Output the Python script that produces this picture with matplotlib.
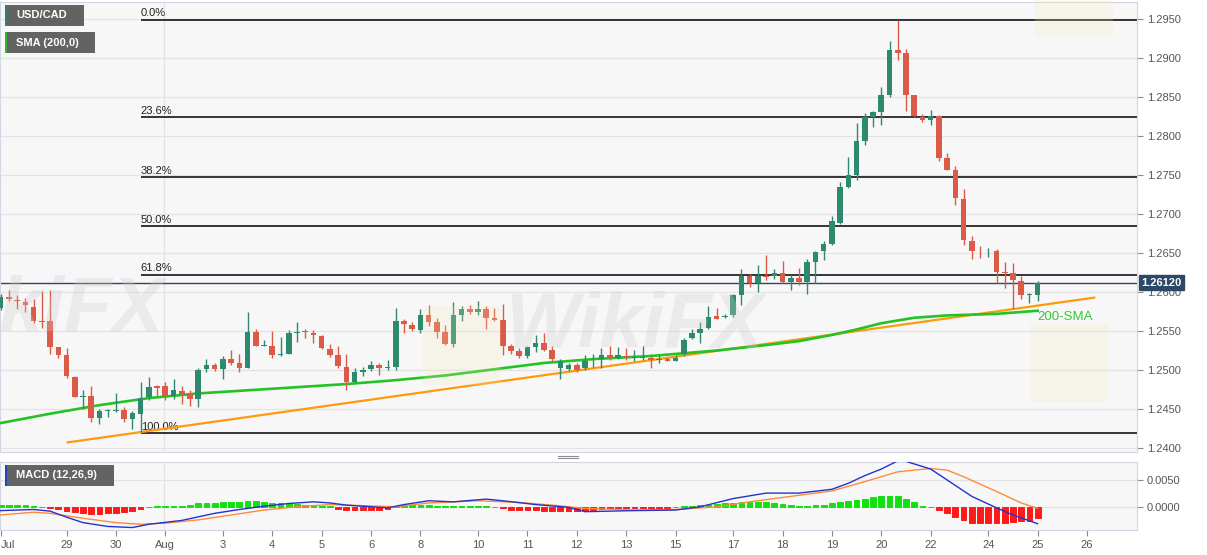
import numpy as np
import matplotlib
matplotlib.use("Agg")
import matplotlib.pyplot as plt
from matplotlib.patches import Rectangle, FancyBboxPatch
from matplotlib.lines import Line2D
from matplotlib.transforms import blended_transform_factory

plt.rcParams['font.family'] = ['Liberation Sans', 'DejaVu Sans']

# 4H candles, USD/CAD, Jul 28 -> Aug 25
opens = [1.2580, 1.2593, 1.2590, 1.2587, 1.2581, 1.2563, 1.2563, 1.2529, 1.2519, 1.2491,
         1.2466, 1.2467, 1.2439, 1.2447, 1.2448, 1.2449, 1.2437, 1.2444, 1.2465, 1.2479,
         1.2479, 1.2467, 1.2473, 1.2470, 1.2463, 1.2501, 1.2507, 1.2501, 1.2514, 1.2509,
         1.2503, 1.2549, 1.2531, 1.2531, 1.2519, 1.2521, 1.2548, 1.2550, 1.2547, 1.2544,
         1.2527, 1.2519, 1.2504, 1.2485, 1.2498, 1.2501, 1.2506, 1.2503, 1.2504, 1.2563,
         1.2558, 1.2551, 1.2571, 1.2561, 1.2549, 1.2533, 1.2571, 1.2578, 1.2575, 1.2578,
         1.2567, 1.2564, 1.2531, 1.2525, 1.2518, 1.2529, 1.2534, 1.2526, 1.2502, 1.2501,
         1.2506, 1.2502, 1.2511, 1.2514, 1.2519, 1.2516, 1.2518, 1.2516, 1.2515, 1.2516,
         1.2513, 1.2514, 1.2512, 1.2520, 1.2541, 1.2548, 1.2554, 1.2569, 1.2568, 1.2570,
         1.2596, 1.2620, 1.2611, 1.2621, 1.2620, 1.2625, 1.2613, 1.2618, 1.2613, 1.2638,
         1.2652, 1.2662, 1.2689, 1.2735, 1.2750, 1.2793, 1.2825, 1.2831, 1.2852, 1.2910,
         1.2906, 1.2853, 1.2825, 1.2821, 1.2826, 1.2772, 1.2756, 1.2719, 1.2666, 1.2653,
         1.2652, 1.2653, 1.2626, 1.2625, 1.2614, 1.2596, 1.2596]
highs = [1.2597, 1.2603, 1.2596, 1.2592, 1.2591, 1.2601, 1.2602, 1.2530, 1.2528, 1.2492,
         1.2474, 1.2479, 1.2450, 1.2450, 1.2471, 1.2453, 1.2448, 1.2485, 1.2491, 1.2481,
         1.2484, 1.2489, 1.2479, 1.2475, 1.2502, 1.2514, 1.2509, 1.2518, 1.2526, 1.2520,
         1.2574, 1.2553, 1.2539, 1.2550, 1.2542, 1.2551, 1.2562, 1.2553, 1.2551, 1.2545,
         1.2533, 1.2531, 1.2521, 1.2502, 1.2504, 1.2511, 1.2509, 1.2513, 1.2580, 1.2566,
         1.2561, 1.2578, 1.2583, 1.2567, 1.2558, 1.2587, 1.2582, 1.2583, 1.2588, 1.2582,
         1.2579, 1.2585, 1.2533, 1.2528, 1.2531, 1.2545, 1.2548, 1.2531, 1.2514, 1.2509,
         1.2509, 1.2519, 1.2521, 1.2528, 1.2531, 1.2529, 1.2528, 1.2526, 1.2531, 1.2521,
         1.2519, 1.2517, 1.2519, 1.2541, 1.2552, 1.2562, 1.2582, 1.2579, 1.2572, 1.2598,
         1.2629, 1.2623, 1.2634, 1.2647, 1.2629, 1.2640, 1.2622, 1.2631, 1.2642, 1.2653,
         1.2666, 1.2697, 1.2741, 1.2773, 1.2817, 1.2830, 1.2832, 1.2863, 1.2922, 1.2949,
         1.2912, 1.2853, 1.2828, 1.2833, 1.2827, 1.2778, 1.2761, 1.2732, 1.2672, 1.2659,
         1.2656, 1.2655, 1.2638, 1.2637, 1.2620, 1.2599, 1.2614]
lows = [1.2577, 1.2589, 1.2578, 1.2575, 1.2560, 1.2554, 1.2521, 1.2515, 1.2490, 1.2465,
        1.2450, 1.2433, 1.2431, 1.2440, 1.2446, 1.2434, 1.2425, 1.2420, 1.2461, 1.2467,
        1.2462, 1.2463, 1.2457, 1.2454, 1.2452, 1.2497, 1.2499, 1.2488, 1.2507, 1.2498,
        1.2502, 1.2531, 1.2531, 1.2515, 1.2518, 1.2520, 1.2536, 1.2541, 1.2535, 1.2527,
        1.2517, 1.2503, 1.2474, 1.2483, 1.2492, 1.2499, 1.2494, 1.2500, 1.2500, 1.2548,
        1.2550, 1.2548, 1.2557, 1.2541, 1.2532, 1.2530, 1.2563, 1.2572, 1.2570, 1.2553,
        1.2563, 1.2519, 1.2521, 1.2516, 1.2516, 1.2523, 1.2525, 1.2512, 1.2489, 1.2499,
        1.2498, 1.2500, 1.2504, 1.2502, 1.2513, 1.2514, 1.2513, 1.2512, 1.2513, 1.2502,
        1.2509, 1.2511, 1.2512, 1.2518, 1.2540, 1.2534, 1.2552, 1.2565, 1.2567, 1.2568,
        1.2583, 1.2607, 1.2600, 1.2616, 1.2617, 1.2611, 1.2602, 1.2609, 1.2598, 1.2611,
        1.2641, 1.2660, 1.2687, 1.2733, 1.2744, 1.2788, 1.2812, 1.2814, 1.2850, 1.2897,
        1.2832, 1.2825, 1.2818, 1.2814, 1.2768, 1.2756, 1.2712, 1.2660, 1.2642, 1.2644,
        1.2645, 1.2612, 1.2605, 1.2578, 1.2591, 1.2586, 1.2588]
closes = [1.2593, 1.2591, 1.2588, 1.2583, 1.2563, 1.2562, 1.2530, 1.2519, 1.2492, 1.2466,
          1.2467, 1.2439, 1.2447, 1.2448, 1.2449, 1.2437, 1.2445, 1.2464, 1.2478, 1.2477,
          1.2467, 1.2474, 1.2469, 1.2463, 1.2500, 1.2507, 1.2501, 1.2514, 1.2509, 1.2503,
          1.2549, 1.2531, 1.2532, 1.2519, 1.2520, 1.2548, 1.2549, 1.2549, 1.2545, 1.2528,
          1.2519, 1.2505, 1.2485, 1.2498, 1.2500, 1.2506, 1.2503, 1.2504, 1.2563, 1.2559,
          1.2552, 1.2571, 1.2561, 1.2549, 1.2533, 1.2571, 1.2578, 1.2575, 1.2578, 1.2567,
          1.2564, 1.2531, 1.2525, 1.2518, 1.2529, 1.2534, 1.2526, 1.2514, 1.2512, 1.2506,
          1.2500, 1.2511, 1.2512, 1.2519, 1.2516, 1.2519, 1.2517, 1.2517, 1.2516, 1.2513,
          1.2514, 1.2512, 1.2516, 1.2539, 1.2547, 1.2553, 1.2568, 1.2566, 1.2569, 1.2596,
          1.2620, 1.2611, 1.2621, 1.2619, 1.2625, 1.2613, 1.2618, 1.2613, 1.2638, 1.2651,
          1.2662, 1.2691, 1.2734, 1.2750, 1.2793, 1.2824, 1.2831, 1.2852, 1.2910, 1.2907,
          1.2853, 1.2826, 1.2821, 1.2826, 1.2772, 1.2757, 1.2720, 1.2667, 1.2653, 1.2652,
          1.2653, 1.2626, 1.2625, 1.2615, 1.2596, 1.2597, 1.2612]

# 200-SMA, read at selected candles
sma_idx = [0, 6, 12, 18, 24, 30, 36, 42, 48, 54, 60, 66, 72, 79, 87, 93, 97, 101, 104, 107, 111, 115, 121, 126]
sma_val = [1.2432, 1.2444, 1.2455, 1.2464, 1.2470, 1.2474, 1.2478, 1.2482, 1.2487, 1.2493,
           1.2501, 1.2509, 1.2514, 1.2518, 1.2525, 1.2532, 1.2537, 1.2545, 1.2552, 1.2560,
           1.2567, 1.2570, 1.2572, 1.2576]

# support trend line
trend_idx = [8, 133]
trend_val = [1.2407, 1.2593]

# Fibonacci retracement
fib_labels = ['0.0%', '23.6%', '38.2%', '50.0%', '61.8%', '100.0%']
fib_levels = [1.2949, 1.2824, 1.2747, 1.2684, 1.2622, 1.2419]
fib_start = 17

last_price = 1.2612

# MACD (12,26,9)
macd_idx = [0, 4, 6, 8, 10, 13, 16, 18, 22, 26, 29, 32, 35, 38, 40, 42, 45, 47, 49, 52, 55, 59,
            61, 65, 69, 71, 77, 82, 85, 89, 93, 97, 101, 103, 105, 107, 109, 110, 113, 115, 118,
            121, 123, 126]
macd_val = [-0.0006, -0.0004, -0.0007, -0.0018, -0.0028, -0.0035, -0.0037, -0.0031, -0.0024,
            -0.0011, -0.0004, 0.0002, 0.0007, 0.0010, 0.0008, 0.0004, 0.0001, -0.0001, 0.0005,
            0.0012, 0.0010, 0.0015, 0.0012, 0.0005, 0.0000, -0.0008, -0.0006, -0.0005, 0.0001,
            0.0016, 0.0026, 0.0026, 0.0033, 0.0044, 0.0058, 0.0070, 0.0085, 0.0084, 0.0070,
            0.0050, 0.0020, -0.0001, -0.0014, -0.0030]
sig_idx = [0, 4, 6, 10, 14, 17, 20, 24, 28, 32, 36, 40, 44, 48, 52, 58, 63, 67, 71, 77, 82,
           87, 91, 97, 101, 105, 109, 113, 115, 117, 121, 124, 126]
sig_val = [-0.0014, -0.0009, -0.0011, -0.0020, -0.0028, -0.0031, -0.0029, -0.0023, -0.0014,
           -0.0005, 0.0001, 0.0005, 0.0003, 0.0001, 0.0008, 0.0012, 0.0009, 0.0004, -0.0002,
           -0.0005, -0.0004, 0.0001, 0.0010, 0.0022, 0.0030, 0.0047, 0.0065, 0.0071, 0.0068,
           0.0056, 0.0029, 0.0008, -0.0002]
hist = [0.0005, 0.0005, 0.0004, 0.0004, 0.0003, 0.0001, -0.0001, -0.0003, -0.0006, -0.0009,
        -0.0011, -0.0012, -0.0012, -0.0011, -0.0010, -0.0008, -0.0006, -0.0003, 0.0001, 0.0002,
        0.0002, 0.0003, 0.0003, 0.0005, 0.0007, 0.0008, 0.0008, 0.0009, 0.0009, 0.0010,
        0.0011, 0.0011, 0.0009, 0.0008, 0.0007, 0.0006, 0.0006, 0.0005, 0.0004, 0.0003,
        0.0002, -0.0003, -0.0004, -0.0004, -0.0004, -0.0004, -0.0004, -0.0003, 0.0002, 0.0004,
        0.0005, 0.0005, 0.0004, 0.0003, 0.0002, 0.0003, 0.0002, 0.0002, 0.0002, 0.0002,
        0.0001, -0.0002, -0.0004, -0.0005, -0.0005, -0.0005, -0.0006, -0.0006, -0.0007, -0.0007,
        -0.0006, -0.0005, -0.0004, -0.0003, -0.0002, -0.0001, -0.0001, -0.0001, -0.0001, -0.0001,
        -0.0001, -0.0001, 0.0001, 0.0002, 0.0003, 0.0004, 0.0005, 0.0006, 0.0007, 0.0008,
        0.0009, 0.0010, 0.0010, 0.0009, 0.0008, 0.0006, 0.0004, 0.0003, 0.0003, 0.0004,
        0.0005, 0.0007, 0.0009, 0.0012, 0.0014, 0.0016, 0.0018, 0.0020, 0.0021, 0.0021,
        0.0016, 0.0010, 0.0003, 0.0000, -0.0005, -0.0011, -0.0017, -0.0024, -0.0028, -0.0029,
        -0.0029, -0.0029, -0.0028, -0.0026, -0.0025, -0.0025, -0.0020]

tick_idx = [0, 8, 14, 20, 27, 33, 39, 45, 51, 58, 64, 70, 76, 82, 89, 95, 101, 107, 113, 120, 126, 132]
tick_lbl = ['Jul', '29', '30', 'Aug', '3', '4', '5', '6', '8', '10', '11', '12', '13', '15',
            '17', '18', '19', '20', '22', '24', '25', '26']

W, H = 1207, 555
GREEN, RED = '#2e8a6f', '#dc5a48'
BG = '#f7f7f8'
GRID = '#e3e3e6'
SPINE = '#d3d6e2'

fig = plt.figure(figsize=(W / 100, H / 100), dpi=100)
fig.patch.set_facecolor('white')
ax = fig.add_axes([0, 1 - 452 / H, 1137 / W, 450 / H])
mx = fig.add_axes([0, 1 - 530 / H, 1137 / W, 68 / H], sharex=ax)

o = np.array(opens); c = np.array(closes)
hi = np.array(highs); lo = np.array(lows)
idx = np.arange(len(o))
cols = [GREEN if cc >= oo else RED for oo, cc in zip(o, c)]

for a in (ax, mx):
    a.set_facecolor(BG)
    for s in a.spines.values():
        s.set_color(SPINE)
    a.yaxis.tick_right()
    a.tick_params(axis='y', colors='#8a8a8a', length=4, labelsize=8, labelcolor='#555555', pad=3)
    a.axvline(19.9, color=GRID, lw=0.9, zorder=0)

# faint watermarks
wm = dict(color='#d2cdcd', alpha=0.3, fontsize=56, fontweight='bold', fontstyle='italic',
          va='center', zorder=1)
fig.text(-95 / W, 1 - 312 / H, 'WikiFX', clip_on=True, **wm)
fig.text(505 / W, 1 - 328 / H, 'WikiFX', **wm)
for (lx, ly) in [(428, 308), (1035, 325), (1040, -40)]:
    fig.add_artist(FancyBboxPatch((lx / W, 1 - (ly + 75) / H), 68 / W, 75 / H,
                                  boxstyle='round,pad=0.004', transform=fig.transFigure,
                                  fc='#f3e6b8', ec='none', alpha=0.22, zorder=1))

# price panel
ax.set_xlim(-0.085, 138.07)
ax.set_ylim(1.23949, 1.29718)
ax.set_yticks(np.arange(1.2400, 1.2951, 0.005))
ax.yaxis.set_major_formatter(matplotlib.ticker.FormatStrFormatter('%.4f'))
ax.grid(axis='y', color=GRID, lw=0.9, zorder=0)
ax.tick_params(axis='x', bottom=False, labelbottom=False)

ax.axhline(last_price, color='#2d4866', lw=1, zorder=2)

for lbl, lv in zip(fib_labels, fib_levels):
    ax.hlines(lv, fib_start, 138.07, color='black', lw=1.1, zorder=2)
    ax.annotate(lbl, (fib_start, lv), xytext=(0, 1), textcoords='offset points',
                fontsize=8, color='#222222', va='bottom', ha='left', zorder=3)

ax.plot(trend_idx, trend_val, color='#ff9a0e', lw=1.6, zorder=4, solid_capstyle='butt')
ax.plot(sma_idx, sma_val, color='#22c322', lw=1.9, zorder=4)

body = np.maximum(np.abs(c - o), 0.00012)
ax.vlines(idx, lo, hi, color=cols, lw=1, zorder=5)
ax.bar(idx, body, bottom=np.minimum(o, c), width=0.68, color=cols, zorder=6)

ax.text(126, 1.2568, '200-SMA', color='#2fcc2f', fontsize=9.5, va='center', ha='left', zorder=7)

tr = blended_transform_factory(ax.transAxes, ax.transData)
ax.text(1.0035, last_price, '%.5f' % last_price, transform=tr, color='white', fontsize=8,
        fontweight='bold', va='center', ha='left', clip_on=False, zorder=10,
        bbox=dict(boxstyle='square,pad=0.22', fc='#2d4866', ec='#2d4866'))

# MACD panel
mx.set_ylim(-0.00415, 0.00829)
mx.set_yticks([0.0, 0.005])
mx.yaxis.set_major_formatter(matplotlib.ticker.FormatStrFormatter('%.4f'))
mx.grid(axis='y', color=GRID, lw=0.9, zorder=0)
hcols = ['#11e011' if h >= 0 else '#ff1a1a' for h in hist]
mx.bar(idx, hist, width=0.7, color=hcols, edgecolor=hcols, lw=0.7, zorder=3)
mx.plot(sig_idx, sig_val, color='#ff8a3a', lw=1, zorder=4)
mx.plot(macd_idx, macd_val, color='#2233cc', lw=1, zorder=5)
mx.set_xticks(tick_idx)
mx.set_xticklabels(tick_lbl)
mx.tick_params(axis='x', colors='#8a8a8a', length=4, labelsize=8, labelcolor='#555555', pad=3)
mx.get_xticklabels()[0].set_ha('left')

# legend tags
def tag(x0, y0, w, h, txt, accent):
    fig.add_artist(Rectangle((x0 / W, 1 - (y0 + h) / H), w / W, h / H,
                             transform=fig.transFigure, fc='#636363', ec='none', zorder=20))
    fig.add_artist(Rectangle((x0 / W, 1 - (y0 + h) / H), 2 / W, h / H,
                             transform=fig.transFigure, fc=accent, ec='none', zorder=21))
    fig.text((x0 + 11) / W, 1 - (y0 + h / 2) / H, txt, color='white', fontsize=8,
             fontweight='bold', va='center', ha='left', zorder=22)

tag(5, 5, 79, 21, 'USD/CAD', '#2f7f73')
tag(5, 32, 90, 21, 'SMA (200,0)', '#2db52d')
tag(5, 465, 109, 21, 'MACD (12,26,9)', '#2244bb')

# panel grip
for gy in (455.5, 457.5):
    fig.add_artist(Line2D([558 / W, 578 / W], [1 - gy / H, 1 - gy / H], color='#8c8c8c',
                          lw=0.8, transform=fig.transFigure))

fig.savefig('out.png', dpi=100, facecolor='white')
